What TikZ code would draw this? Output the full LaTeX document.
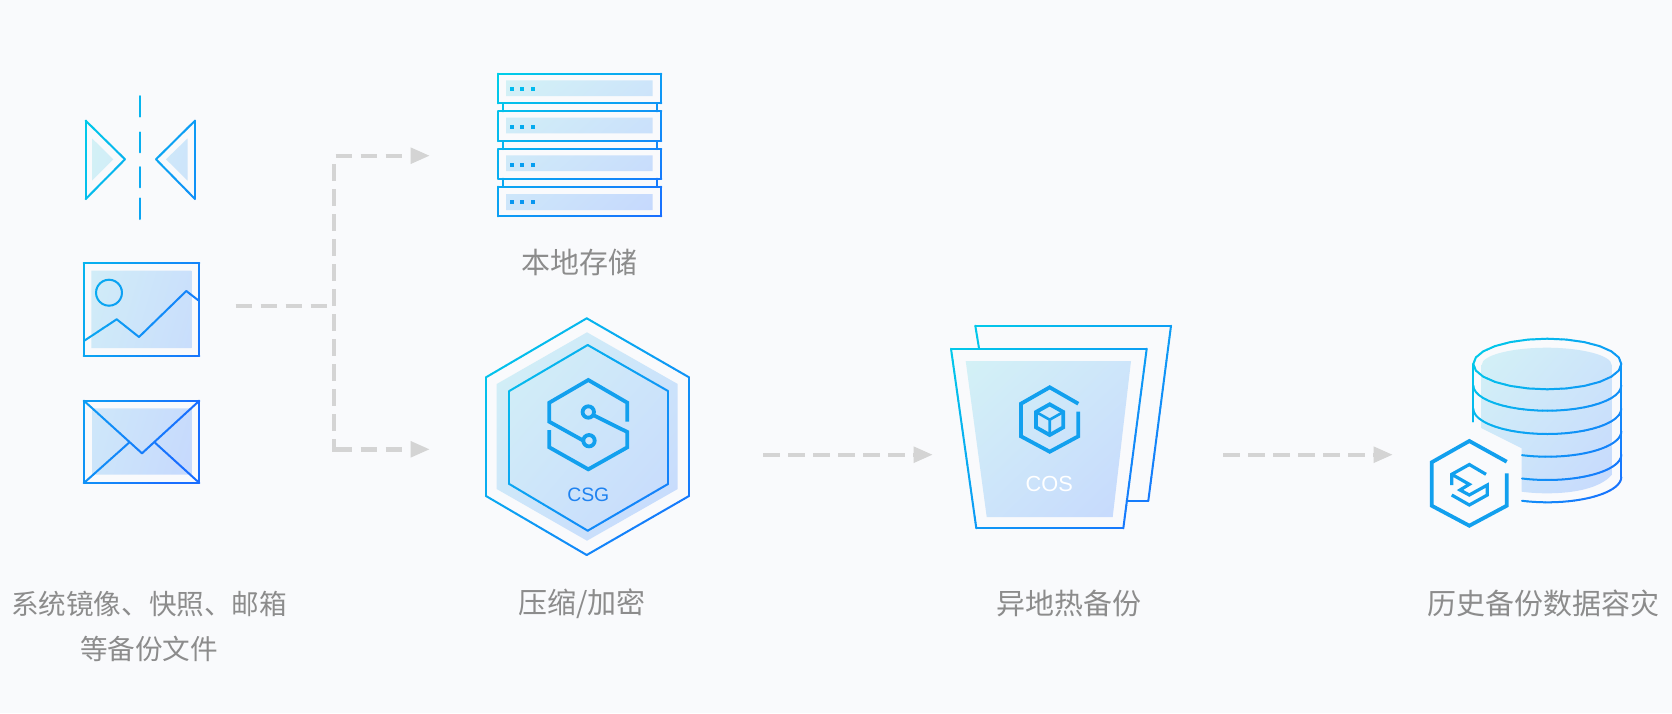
\documentclass[tikz,border=0pt]{standalone}
\usepackage{fontspec}
\usetikzlibrary{arrows.meta, shadings}
\setmainfont{Liberation Sans}
\newfontfamily\cjk{Noto Sans CJK SC}

\definecolor{pagebg}{HTML}{F9FAFC}
\definecolor{flowgrey}{HTML}{D4D4D4}
\definecolor{labelgrey}{HTML}{8C8C8C}
\definecolor{softa}{HTML}{D3F1F6}
\definecolor{softb}{HTML}{C6D9FD}
\definecolor{softm}{HTML}{CDE5FA}
\definecolor{glyphblue}{HTML}{12A0EE}
\definecolor{csgblue}{HTML}{1E82F0}

\tikzset{
	flow/.style={draw=flowgrey, line width=4.4pt, dash pattern=on 16.7pt off 8.3pt},
	flowarrow/.style={flow, -{Triangle[length=18.7pt, width=16.7pt, line width=0pt]}},
	outline/.style={line width=2pt, line cap=round},
	glyph/.style={draw=glyphblue, line width=3.8pt, miter limit=10},
	softfill/.style={upper left=softa, lower right=softb, upper right=softm, lower left=softm},
	caption/.style={text=labelgrey, align=center, font=\cjk\fontsize{29}{45.5}\selectfont},
}

\newcommand{\gradbox}[4]{\def\gxa{#1}\def\gya{#2}\def\gxb{#3}\def\gyb{#4}}
\newcommand{\gradseg}[4]{%
	\pgfmathsetmacro\seglen{veclen(#3-#1,#4-#2)}%
	\pgfmathtruncatemacro\nseg{max(1,ceil(\seglen/6))}%
	\foreach \k in {1,...,\nseg}{%
		\pgfmathsetmacro\sxa{#1+(#3-#1)*(\k-1)/\nseg}%
		\pgfmathsetmacro\sya{#2+(#4-#2)*(\k-1)/\nseg}%
		\pgfmathsetmacro\sxb{#1+(#3-#1)*\k/\nseg}%
		\pgfmathsetmacro\syb{#2+(#4-#2)*\k/\nseg}%
		\pgfmathsetmacro\gt{min(1,max(0,(((\sxa+\sxb)/2-\gxa)/(\gxb-\gxa)+((\sya+\syb)/2-\gya)/(\gyb-\gya))/2))}%
		\pgfmathsetmacro\gr{.10*\gt}%
		\pgfmathsetmacro\gg{.81-.38*\gt}%
		\pgfmathsetmacro\gb{.91+.09*\gt}%
		\definecolor{segcol}{rgb}{\gr,\gg,\gb}%
		\draw[segcol] (\sxa, \sya) -- (\sxb, \syb);
	}}
\newcommand{\gradline}[1]{%
	\def\noprev{N}%
	\foreach \px/\py [remember=\px as \qx (initially N), remember=\py as \qy (initially N)] in {#1}{%
		\ifx\qx\noprev\else\gradseg{\qx}{\qy}{\px}{\py}\fi
	}}
\newcommand{\gradarc}[6]{%
	\pgfmathsetmacro\arcstep{(#6-#5)/24}%
	\foreach \j in {1,...,24}{%
		\pgfmathsetmacro\ta{#5+(\j-1)*\arcstep}%
		\pgfmathsetmacro\tb{#5+\j*\arcstep}%
		\pgfmathsetmacro\axa{#1+#3*cos(\ta)}%
		\pgfmathsetmacro\aya{#2+#4*sin(\ta)}%
		\pgfmathsetmacro\axb{#1+#3*cos(\tb)}%
		\pgfmathsetmacro\ayb{#2+#4*sin(\tb)}%
		\gradseg{\axa}{\aya}{\axb}{\ayb}
	}}

\begin{document}
\begin{tikzpicture}[x=1pt, y=-1pt]
	\useasboundingbox (0, 0) rectangle (1672, 713);
	\fill[pagebg] (0, 0) rectangle (1672, 713);

	\shade[softfill]
		(92, 138.3) -- (113.3, 159.3) -- (92, 180.7) -- cycle
		(187.7, 138.3) -- (166, 159.3) -- (187.7, 180.7) -- cycle
		(91.3, 270.7) rectangle (191.3, 348)
		(92, 408.3) rectangle (191.3, 474.7);

	\begin{scope}[outline]
		\gradbox{84}{96}{199}{400}
		\gradline{85.7/120.7, 125/159.3, 85.7/199, 85.7/120.7}
		\gradline{195/120.7, 156/159.3, 195/199, 195/120.7}
		\gradline{83.7/263, 199.3/263, 199.3/355.7, 83.7/355.7, 83.7/263}
		\gradline{84.3/340.7, 116.7/319.3, 139/337, 186.3/291, 198.3/300.3}
		\gradarc{109}{292.7}{13}{13}{0}{360}
		\gradline{83.7/400.7, 199.3/400.7, 199.3/482.7, 83.7/482.7, 83.7/400.7}
		\gradline{85/401.7, 142/453.3, 198.3/401.7}
		\gradline{85/482, 129/442.7}
		\gradline{198.3/482, 155/442.7}
		\foreach \dy/\dz in {96/116.7, 132.3/152.3, 167/187.3, 198.3/219}
			\gradseg{140.3}{\dy}{140.3}{\dz};
	\end{scope}

	\coordinate (filesout) at (235.7, 305.7);
	\coordinate (forkjoin) at (327.3, 305.7);
	\coordinate (forktop) at (334, 164.3);
	\coordinate (forkbot) at (334, 451.5);
	\coordinate (turntop) at (335.7, 155.7);
	\coordinate (turnbot) at (335.7, 449.3);
	\coordinate (localin) at (429.3, 155.7);
	\coordinate (csgin) at (429.3, 449.3);
	\coordinate (csgout) at (763.3, 454.7);
	\coordinate (cosin) at (932.3, 454.7);
	\coordinate (cosout) at (1223.3, 454.7);
	\coordinate (dbin) at (1392.3, 454.7);

	\draw[flow] (filesout) -- (forkjoin);
	\draw[flow] (forktop) -- (forkbot);
	\draw[flowarrow] (turntop) -- (localin);
	\draw[flowarrow] (turnbot) -- (csgin);
	\draw[flowarrow] (csgout) -- (cosin);
	\draw[flowarrow] (cosout) -- (dbin);

	\shade[softfill]
		(506, 80.3) rectangle (652.7, 96)
		(506, 117.7) rectangle (652.7, 133.3)
		(506, 155.3) rectangle (652.7, 171)
		(506, 194) rectangle (652.7, 210);
	\foreach \y/\c in {89.3/00BAEE, 127/04AAEE, 164.7/069EF0, 202.3/0896F0} {
		\definecolor{dotcol}{HTML}{\c}
		\foreach \x in {511.7, 522.3, 532.7}
			\fill[dotcol] (\x-2.1, \y-2.1) rectangle (\x+2.1, \y+2.1);
	}
	\begin{scope}[outline]
		\gradbox{498}{73.7}{661.3}{216.3}
		\foreach \y/\yb in {73.7/103.3, 111.3/141, 149/178.7, 186.7/216.3}
			\gradline{498/\y, 661.3/\y, 661.3/\yb, 498/\yb, 498/\y};
		\foreach \y/\yb in {103.3/111.3, 141/149, 178.7/186.7} {
			\gradseg{502.7}{\y}{502.7}{\yb};
			\gradseg{656.7}{\y}{656.7}{\yb};
		}
	\end{scope}
	\node[caption] (locallabel) at (579.3, 262) {本地存储};

	\shade[softfill] (587, 332.3) -- (677.7, 384) -- (677.7, 489) -- (587, 540.7)
		-- (496.7, 489) -- (496.7, 384) -- cycle;
	\begin{scope}[outline]
		\gradbox{486}{318}{689}{555}
		\gradline{586.7/318.3, 689/377.3, 689/496, 586.7/555, 486/496, 486/377.3, 586.7/318.3}
		\gradline{587.7/345, 668/391, 668/484, 587.7/530.7, 509.3/484, 509.3/391, 587.7/345}
	\end{scope}
	\draw[glyph] (627.3, 421.7) -- (627.3, 402.7) -- (588.3, 380) -- (549.3, 402.7)
		-- (549.3, 421.7) -- (584, 441);
	\draw[glyph] (593, 415) -- (627.3, 432) -- (627.3, 447.3) -- (588.3, 469.3)
		-- (549.3, 447.3) -- (549.3, 430);
	\draw[glyph, fill=softm] (588.3, 412) circle (5.7);
	\draw[glyph, fill=softm] (589, 440.7) circle (5.7);
	\node[text=csgblue, font=\fontsize{19.4}{20}\selectfont] (csgname) at (588.3, 494.7) {CSG};
	\node[caption] (csglabel) at (582, 603.5) {压缩/加密};

	\begin{scope}[outline]
		\gradbox{951}{325}{1171}{528}
		\gradline{979/348.3, 975.3/325.7, 1171/325.7, 1148.3/500.7, 1126.7/500.7}
		\gradline{951/348.7, 1146.7/348.7, 1123.3/528.3, 976.3/528.3, 951/348.7}
	\end{scope}
	\shade[softfill] (965.7, 361) -- (1131, 361) -- (1112.7, 517) -- (986.7, 517) -- cycle;
	\draw[glyph] (1078.3, 403.7) -- (1049.7, 387.3) -- (1021, 403.7) -- (1021, 436.3)
		-- (1049.7, 451.7) -- (1078.3, 436.3) -- (1078.3, 411.7);
	\draw[glyph] (1049.7, 404.3) -- (1063.3, 412) -- (1063.3, 427.3) -- (1049.7, 435)
		-- (1036, 427.3) -- (1036, 412) -- cycle;
	\draw[glyph, line width=2.6pt] (1036, 412) -- (1049.7, 419.7) -- (1063.3, 412)
		(1049.7, 419.7) -- (1049.7, 435);
	\node[text=white, font=\fontsize{21.8}{22}\selectfont] (cosname) at (1049.3, 483.7) {COS};
	\node[caption] (coslabel) at (1068.5, 603.5) {异地热备份};

	\shade[softfill] (1481.7, 428.3) -- (1521.7, 448.3) -- (1521.7, 491.7)
		.. controls (1530, 492.8) and (1538, 493.3) .. (1547, 493.3)
		.. controls (1575, 493.3) and (1600, 488) .. (1611.7, 475)
		-- (1611.7, 365)
		.. controls (1611.7, 355) and (1580, 347.7) .. (1547, 347.7)
		.. controls (1512, 347.7) and (1481.7, 355) .. (1481.7, 365) -- cycle;
	\begin{scope}[outline]
		\gradbox{1473}{339}{1621}{502}
		\gradarc{1547.3}{364}{74}{25.3}{0}{360}
		\gradline{1473.3/364, 1473.3/421.7}
		\gradline{1621.3/364, 1621.3/477}
		\gradarc{1547.3}{385.4}{74}{25.3}{0}{180}
		\gradarc{1547.3}{408.7}{74}{25.3}{0}{180}
		\gradarc{1547.3}{431.4}{74}{25.3}{0}{110}
		\gradarc{1547.3}{454.7}{74}{25.3}{0}{110}
		\gradarc{1547.3}{477}{74}{25.3}{0}{110}
	\end{scope}
	\draw[glyph] (1506.7, 461.7) -- (1469.3, 441) -- (1431.7, 462.3)
		-- (1431.7, 505.7) -- (1469.3, 525.7) -- (1506.7, 505.7) -- (1506.7, 473.3);
	\draw[glyph, line width=3.2pt] (1486, 474.3) -- (1469.3, 464.5) -- (1451.7, 474.3)
		-- (1451.7, 485) (1451.7, 474.3) -- (1469.3, 484.3) -- (1460, 490)
		-- (1469.3, 495) -- (1487.3, 485) -- (1487.3, 495) -- (1469.3, 505) -- (1451.7, 495);
	\node[caption] (dblabel) at (1543, 603.5) {历史备份数据容灾};

	\node[caption, font=\cjk\fontsize{27.6}{45.5}\selectfont] (fileslabel) at (149, 626.3) {系统镜像、快照、邮箱\\等备份文件};
\end{tikzpicture}
\end{document}
